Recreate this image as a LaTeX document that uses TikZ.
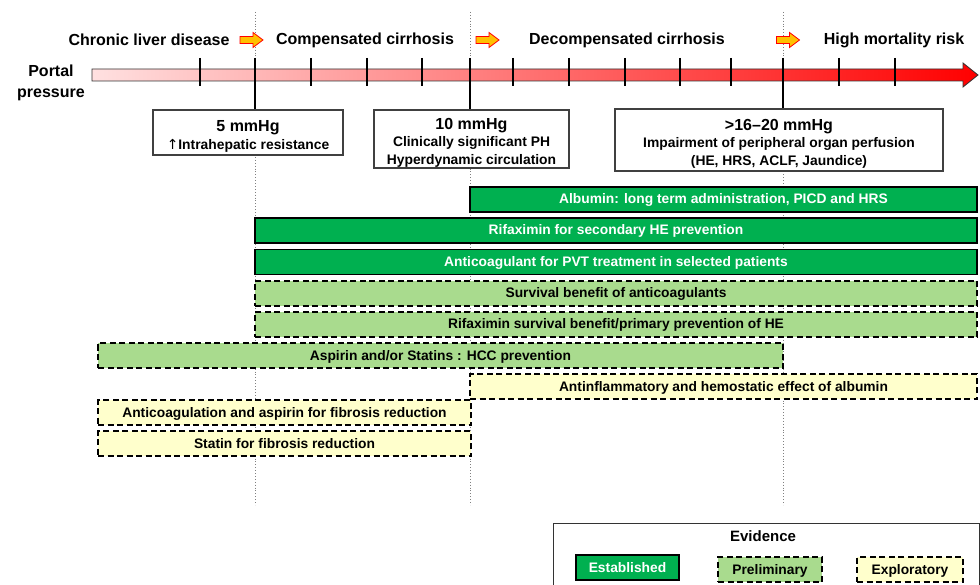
\documentclass[tikz,border=0pt]{standalone}
\usepackage{fontspec}
\setmainfont{Liberation Sans}
\newfontfamily\symfont{DejaVu Sans}
\definecolor{estgreen}{RGB}{0,176,80}
\definecolor{prelgreen}{RGB}{169,219,142}
\definecolor{explyellow}{RGB}{255,255,204}
\definecolor{arroworange}{RGB}{255,192,0}
\tikzset{
  bar/.style={draw=black, line width=1.3pt, minimum height=25pt, inner sep=0pt,
    text height=10pt, text depth=1pt,
    font=\bfseries\fontsize{13.8}{16}\selectfont},
  estbar/.style={bar, fill=estgreen, text=white},
  prelbar/.style={bar, fill=prelgreen, dash pattern=on 6pt off 3.5pt},
  explbar/.style={bar, fill=explyellow, dash pattern=on 6pt off 3.5pt},
  stagelabel/.style={font=\bfseries\fontsize{16}{18}\selectfont, inner sep=0pt},
  pbox/.style={draw=black!75, line width=1.1pt, fill=white, inner sep=0pt, align=center,
    font=\bfseries\fontsize{13.85}{17.5}\selectfont},
  tickmark/.style={line width=2.6pt},
  guide/.style={gray, dotted, line width=0.9pt},
  orarrow/.pic={\draw[red, fill=arroworange, line width=0.8pt]
    (-11.5,-3.5) -- (1.5,-3.5) -- (1.5,-7.5) -- (11.5,0) -- (1.5,7.5) -- (1.5,3.5) -- (-11.5,3.5) -- cycle;}
}
\newcommand{\boxhead}[1]{{\fontsize{16}{17.5}\selectfont\rule{0pt}{18.5pt}#1}}
\begin{document}
\begin{tikzpicture}[x=1pt,y=-1pt]
\useasboundingbox (0,0) rectangle (980,585);
\fill[white] (0,0) rectangle (980,585);

% guides
\foreach \gx in {255,470,783} \draw[guide] (\gx,12) -- (\gx,505);

% stage labels
\node[stagelabel] (s1) at (149,40) {Chronic liver disease};
\node[stagelabel] (s2) at (365,40) {Compensated cirrhosis};
\node[stagelabel] (s3) at (627,40) {Decompensated cirrhosis};
\node[stagelabel] (s4) at (894,40) {High mortality risk};
\pic at (251.5,40) {orarrow};
\pic at (487.5,40) {orarrow};
\pic at (788,40) {orarrow};

% portal pressure
\node[stagelabel, align=center] (pp) at (51,83) {Portal\\[3pt]pressure};

% pressure arrow
\shade[left color=red!12, middle color=red!30, right color=red, draw=black!80, line width=0.8pt]
  (92,69) -- (963,69) -- (963,63) -- (978,75) -- (963,87) -- (963,81) -- (92,81) -- cycle;

% boxes
\node[pbox, minimum width=190pt, minimum height=45pt] (b1) at (248,132.5)
  {\boxhead{5 mmHg}\\{\symfont\mdseries ↑}Intrahepatic resistance};
\node[pbox, minimum width=195pt, minimum height=58pt] (b2) at (471.5,139)
  {\boxhead{10 mmHg}\\Clinically significant PH\\Hyperdynamic circulation};
\node[pbox, minimum width=328pt, minimum height=62pt] (b3) at (779,140)
  {\boxhead{>16–20 mmHg}\\Impairment of peripheral organ perfusion\\(HE, HRS, ACLF, Jaundice)};

% ticks
\foreach \tx in {200,311,367,422,513,569,625,680,731,839,895}
  \draw[tickmark] (\tx,58) -- (\tx,86);
\coordinate (t1) at (255,58);
\coordinate (t2) at (470,58);
\coordinate (t3) at (783,58);
\draw[tickmark] (t1) -- (t1 |- b1.north);
\draw[tickmark] (t2) -- (t2 |- b2.north);
\draw[tickmark] (t3) -- (t3 |- b3.north);

% bars
\node[estbar, minimum width=507pt] (alb) at (723.5,199.5) {Albumin: long term administration, PICD and HRS};
\node[estbar, minimum width=722pt] (rifx) at (616,230.5) {Rifaximin for secondary HE prevention};
\node[estbar, minimum width=722pt] (anti) at (616,262) {Anticoagulant for PVT treatment in selected patients};
\node[prelbar, minimum width=722pt] (surv) at (616,293.5) {Survival benefit of anticoagulants};
\node[prelbar, minimum width=722pt] (rifs) at (616,324.5) {Rifaximin survival benefit/primary prevention of HE};
\node[prelbar, minimum width=685pt] (asp) at (440.5,355.5) {Aspirin and/or Statins : HCC prevention};
\node[explbar, minimum width=507pt] (antinf) at (723.5,386.5) {Antinflammatory and hemostatic effect of albumin};
\node[explbar, minimum width=373pt] (acasp) at (284.5,412.5) {Anticoagulation and aspirin for fibrosis reduction};
\node[explbar, minimum width=373pt] (stat) at (284.5,443.5) {Statin for fibrosis reduction};

% legend
\node[draw=black!80, line width=1pt, fill=white, minimum width=426pt, minimum height=68pt, inner sep=0pt] (leg) at (766,557) {};
\node[font=\bfseries\fontsize{15}{18}\selectfont, inner sep=0pt] (evid) at (763,536) {Evidence};
\node[estbar, minimum width=103pt] (lest) at (627.5,567.5) {Established};
\node[prelbar, minimum width=104pt] (lprel) at (770,569.5) {Preliminary};
\node[explbar, minimum width=106pt] (lexpl) at (910,569.5) {Exploratory};
\end{tikzpicture}
\end{document}
